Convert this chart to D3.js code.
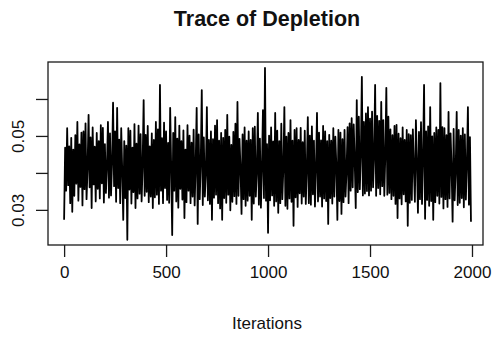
<!DOCTYPE html>
<html>
<head>
<meta charset="utf-8">
<script src="https://cdn.jsdelivr.net/npm/d3@7"></script>
<style>
  html, body { margin: 0; padding: 0; background: #fff; }
  svg { display: block; font-family: "Liberation Sans", Arial, Helvetica, sans-serif; }
</style>
</head>
<body>
<svg id="chart" width="493" height="339"></svg>
<script>
// Sampled depletion trace (every 5th iteration of a 2000-iteration chain)
const thinStep = 5;
const depletion = [
  0.0273, 0.0468, 0.0352, 0.0521, 0.0367, 0.0472, 0.0318, 0.0495, 0.0295, 0.0463, 0.0338, 0.0502, 0.0371, 0.0538, 0.0325, 0.0477, 0.0362, 0.0509, 0.0312, 0.0512,
  0.0356, 0.0534, 0.0329, 0.0412, 0.0557, 0.0361, 0.0496, 0.0305, 0.0523, 0.0369, 0.0471, 0.0323, 0.0508, 0.0357, 0.0486, 0.0331, 0.0529, 0.0372, 0.0522, 0.0320,
  0.0478, 0.0346, 0.0418, 0.0538, 0.0333, 0.0507, 0.0339, 0.0426, 0.0590, 0.0364, 0.0512, 0.0322, 0.0576, 0.0359, 0.0490, 0.0318, 0.0521, 0.0405, 0.0273, 0.0486,
  0.0332, 0.0474, 0.0219, 0.0521, 0.0355, 0.0514, 0.0317, 0.0468, 0.0348, 0.0532, 0.0305, 0.0479, 0.0331, 0.0528, 0.0344, 0.0505, 0.0323, 0.0421, 0.0597, 0.0338,
  0.0503, 0.0349, 0.0527, 0.0321, 0.0472, 0.0336, 0.0507, 0.0305, 0.0489, 0.0334, 0.0538, 0.0341, 0.0518, 0.0316, 0.0638, 0.0352, 0.0494, 0.0318, 0.0536, 0.0359,
  0.0512, 0.0327, 0.0481, 0.0319, 0.0576, 0.0415, 0.0232, 0.0508, 0.0352, 0.0551, 0.0323, 0.0493, 0.0306, 0.0528, 0.0357, 0.0486, 0.0328, 0.0515, 0.0278, 0.0463,
  0.0321, 0.0529, 0.0352, 0.0501, 0.0318, 0.0482, 0.0336, 0.0517, 0.0312, 0.0418, 0.0576, 0.0262, 0.0504, 0.0329, 0.0427, 0.0624, 0.0313, 0.0496, 0.0336, 0.0396,
  0.0578, 0.0326, 0.0489, 0.0316, 0.0512, 0.0273, 0.0491, 0.0333, 0.0528, 0.0341, 0.0543, 0.0318, 0.0487, 0.0304, 0.0508, 0.0273, 0.0495, 0.0332, 0.0516, 0.0319,
  0.0557, 0.0341, 0.0498, 0.0299, 0.0476, 0.0322, 0.0511, 0.0337, 0.0533, 0.0316, 0.0592, 0.0338, 0.0492, 0.0412, 0.0289, 0.0504, 0.0329, 0.0523, 0.0311, 0.0487,
  0.0325, 0.0512, 0.0338, 0.0489, 0.0273, 0.0521, 0.0317, 0.0525, 0.0336, 0.0404, 0.0562, 0.0314, 0.0493, 0.0306, 0.0411, 0.0570, 0.0332, 0.0684, 0.0325, 0.0478,
  0.0238, 0.0501, 0.0326, 0.0523, 0.0339, 0.0485, 0.0311, 0.0562, 0.0323, 0.0514, 0.0292, 0.0486, 0.0318, 0.0533, 0.0329, 0.0411, 0.0578, 0.0311, 0.0498, 0.0303,
  0.0508, 0.0331, 0.0543, 0.0322, 0.0487, 0.0257, 0.0516, 0.0334, 0.0521, 0.0308, 0.0489, 0.0345, 0.0522, 0.0317, 0.0483, 0.0336, 0.0514, 0.0316, 0.0409, 0.0551,
  0.0318, 0.0501, 0.0314, 0.0526, 0.0342, 0.0487, 0.0309, 0.0413, 0.0562, 0.0323, 0.0509, 0.0336, 0.0488, 0.0309, 0.0527, 0.0331, 0.0512, 0.0324, 0.0486, 0.0262,
  0.0503, 0.0332, 0.0487, 0.0317, 0.0521, 0.0336, 0.0498, 0.0418, 0.0273, 0.0516, 0.0324, 0.0509, 0.0289, 0.0491, 0.0321, 0.0516, 0.0336, 0.0406, 0.0524, 0.0318,
  0.0534, 0.0352, 0.0548, 0.0361, 0.0531, 0.0431, 0.0305, 0.0597, 0.0348, 0.0552, 0.0356, 0.0452, 0.0660, 0.0339, 0.0538, 0.0344, 0.0561, 0.0351, 0.0578, 0.0339,
  0.0547, 0.0352, 0.0566, 0.0361, 0.0443, 0.0638, 0.0338, 0.0554, 0.0359, 0.0541, 0.0342, 0.0592, 0.0364, 0.0543, 0.0338, 0.0447, 0.0630, 0.0341, 0.0552, 0.0346,
  0.0518, 0.0329, 0.0502, 0.0338, 0.0527, 0.0316, 0.0530, 0.0278, 0.0506, 0.0331, 0.0494, 0.0315, 0.0523, 0.0342, 0.0489, 0.0323, 0.0516, 0.0257, 0.0505, 0.0319,
  0.0502, 0.0327, 0.0518, 0.0413, 0.0322, 0.0543, 0.0428, 0.0292, 0.0511, 0.0329, 0.0537, 0.0316, 0.0439, 0.0638, 0.0276, 0.0512, 0.0327, 0.0526, 0.0311, 0.0578,
  0.0324, 0.0499, 0.0273, 0.0508, 0.0321, 0.0523, 0.0338, 0.0516, 0.0317, 0.0643, 0.0335, 0.0524, 0.0304, 0.0521, 0.0329, 0.0502, 0.0308, 0.0565, 0.0331, 0.0507,
  0.0412, 0.0268, 0.0519, 0.0326, 0.0405, 0.0565, 0.0313, 0.0516, 0.0319, 0.0501, 0.0332, 0.0521, 0.0307, 0.0504, 0.0328, 0.0422, 0.0578, 0.0314, 0.0497, 0.0268
];

const xTicks = [0, 500, 1000, 1500, 2000];
const yTicks = [0.03, 0.04, 0.05, 0.06];
const yTickLabels = ["0.03", "", "0.05", ""];   // crowded labels are dropped

const titleText = "Trace of Depletion";
const xLabelText = "Iterations";

const svg = d3.select("#chart");
const box = { left: 48, right: 483, top: 62, bottom: 245 };

// Axis limits padded slightly beyond the data, as in a base-graphics plot
const x = d3.scaleLinear().domain([-79, 2054]).range([box.left, box.right]);
const y = d3.scaleLinear().domain([0.0205, 0.0700]).range([box.bottom, box.top]);

const pts = depletion.map((v, i) => [i * thinStep, v]);

// Trace line
svg.append("path")
  .datum(pts)
  .attr("fill", "none")
  .attr("stroke", "#000")
  .attr("stroke-width", 1.8)
  .attr("stroke-linejoin", "round")
  .attr("d", d3.line().x(d => x(d[0])).y(d => y(d[1])));

// Plot frame
svg.append("rect")
  .attr("x", box.left).attr("y", box.top)
  .attr("width", box.right - box.left).attr("height", box.bottom - box.top)
  .attr("fill", "none").attr("stroke", "#1a1a1a").attr("stroke-width", 1.3);

// X axis
const gx = svg.append("g")
  .attr("transform", `translate(0,${box.bottom})`)
  .call(d3.axisBottom(x).tickValues(xTicks).tickSize(12).tickPadding(9).tickFormat(d3.format("d")));
gx.select(".domain").remove();
gx.selectAll(".tick line").attr("stroke", "#1a1a1a").attr("stroke-width", 1.3);
gx.selectAll(".tick text")
  .attr("fill", "#111").attr("font-size", 17)
  .attr("font-family", "'Liberation Sans', Arial, sans-serif");

// Y axis
const gy = svg.append("g")
  .attr("transform", `translate(${box.left},0)`)
  .call(d3.axisLeft(y).tickValues(yTicks).tickSize(12).tickFormat((d, i) => yTickLabels[i]));
gy.select(".domain").remove();
gy.selectAll(".tick line").attr("stroke", "#1a1a1a").attr("stroke-width", 1.3);
gy.selectAll(".tick text")
  .attr("fill", "#111").attr("font-size", 17)
  .attr("font-family", "'Liberation Sans', Arial, sans-serif")
  .attr("x", null).attr("dy", null)
  .attr("text-anchor", "middle")
  .attr("transform", "translate(-24,0) rotate(-90)");

// Title
svg.append("text")
  .attr("x", 267).attr("y", 26)
  .attr("text-anchor", "middle")
  .attr("font-size", 21.5).attr("font-weight", "bold").attr("fill", "#111")
  .text(titleText);

// X axis title
svg.append("text")
  .attr("x", 267).attr("y", 329)
  .attr("text-anchor", "middle")
  .attr("font-size", 17).attr("fill", "#111")
  .text(xLabelText);
</script>
</body>
</html>
